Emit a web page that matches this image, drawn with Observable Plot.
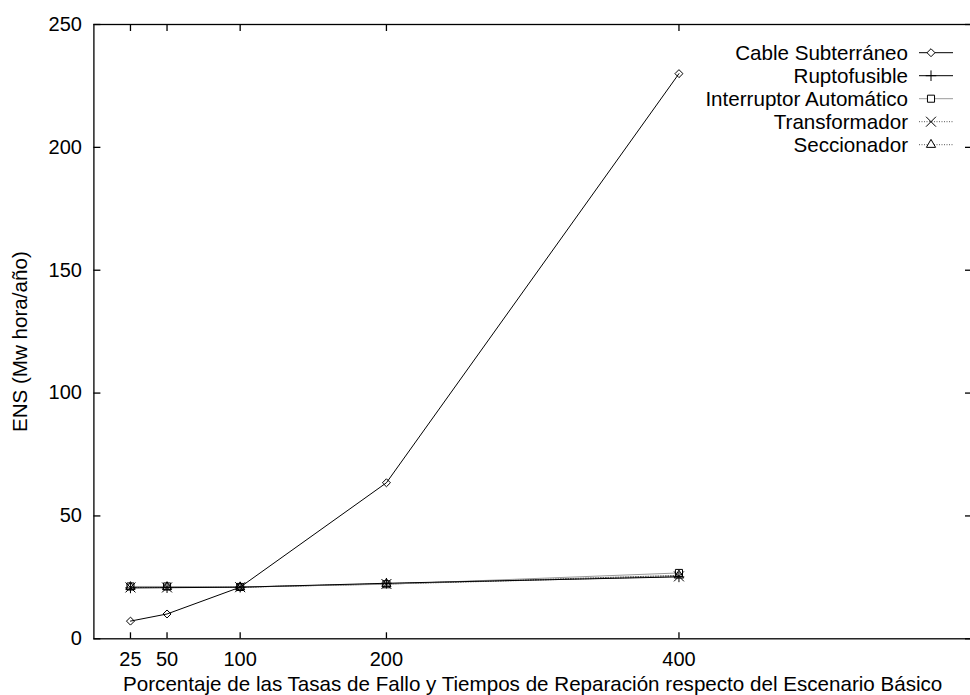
<!DOCTYPE html>
<html><head><meta charset="utf-8">
<script src="https://cdn.jsdelivr.net/npm/d3@7"></script>
<script src="https://cdn.jsdelivr.net/npm/@observablehq/plot@0.6"></script>
<style>body{margin:0;background:#fff} #chart{width:970px;height:695px}</style>
</head><body><div id="chart"></div>
<script>
// ---- data ----
const xValues = [25, 50, 100, 200, 400];
const xTicks = [25, 50, 100, 200, 400];
const yTicks = [0, 50, 100, 150, 200, 250];
const seriesNames = ["Cable Subterráneo", "Ruptofusible", "Interruptor Automático", "Transformador", "Seccionador"];
const cable = [7.2, 10.1, 21.0, 63.5, 230.0];
const ruptofusible = [20.7, 20.8, 21.0, 22.6, 25.2];
const interruptor = [21.3, 21.3, 21.1, 22.2, 26.8];
const transformador = [20.9, 20.9, 21.0, 22.3, 25.4];
const seccionador = [21.1, 21.1, 21.0, 22.4, 25.8];
const xLabel = "Porcentaje de las Tasas de Fallo y Tiempos de Reparación respecto del Escenario Básico";
const yLabel = "ENS (Mw hora/año)";

// ---- styles ----
const seriesValues = [cable, ruptofusible, interruptor, transformador, seccionador];
const styles = [
  {stroke: "#000", dash: null, width: 1, symbol: "diamond2", r: 3.6},
  {stroke: "#000", dash: null, width: 1, symbol: "plus", r: 3.5},
  {stroke: "#9a9a9a", dash: null, width: 1, symbol: "square2", r: 4.5},
  {stroke: "#555", dash: "1,1.5", width: 1, symbol: "times", r: 4.6},
  {stroke: "#555", dash: "1,1.5", width: 1, symbol: "triangle2", r: 4.4}
];
const font = "'Liberation Sans', Arial, Helvetica, sans-serif";
const fsTick = 20;
const fsText = 20.6;

const rows = [];
seriesNames.forEach((name, i) => seriesValues[i].forEach((v, j) => rows.push({series: name, x: xValues[j], y: v})));

const lineMarks = [], dotMarks = [];
seriesNames.forEach((name, i) => {
  const s = styles[i];
  const d = rows.filter(r => r.series === name);
  lineMarks.unshift(Plot.line(d, {x: "x", y: "y", stroke: s.stroke, strokeWidth: s.width, strokeDasharray: s.dash}));
  dotMarks.push(Plot.dot(d, {x: "x", y: "y", symbol: () => s.symbol, r: s.r, fill: "none", stroke: "#000", strokeWidth: 1}));
});

const noText = () => "";
const plot = Plot.plot({
  width: 970, height: 695,
  marginLeft: 93.4, marginRight: -1, marginTop: 24, marginBottom: 56.7,
  style: {fontFamily: font, fontSize: fsTick + "px", color: "#000", background: "#fff", overflow: "visible"},
  x: {domain: [0, 600]},
  y: {domain: [0, 250]},
  marks: [
    Plot.axisX(xTicks, {anchor: "bottom", tickSize: 0, tickPadding: 13, label: null, fontSize: fsTick}),
    Plot.axisX(xTicks, {anchor: "bottom", tickSize: -6, tickFormat: noText, label: null, strokeWidth: 1.3}),
    Plot.axisX(xTicks, {anchor: "top", tickSize: -6, tickFormat: noText, label: null, strokeWidth: 1.3}),
    Plot.axisY(yTicks, {anchor: "left", tickSize: 0, tickPadding: 12, label: null, fontSize: fsTick}),
    Plot.axisY(yTicks, {anchor: "left", tickSize: -7, tickFormat: noText, label: null, strokeWidth: 1.3}),
    Plot.axisY(yTicks, {anchor: "right", tickSize: -7, tickFormat: noText, label: null, strokeWidth: 1.3}),
    ...lineMarks,
    ...dotMarks,
    Plot.frame({stroke: "#000", strokeWidth: 1.3}),
    Plot.text([xLabel], {frameAnchor: "bottom", dy: 46, text: d => d, fontSize: fsText, fill: "#000", textAnchor: "middle", lineAnchor: "middle"}),
    Plot.text([yLabel], {frameAnchor: "left", dx: -73, dy: 10, rotate: -90, text: d => d, fontSize: fsText, fill: "#000", textAnchor: "middle", lineAnchor: "middle"})
  ]
});

// ---- legend (top right, inside frame) ----
const svg = d3.select(plot);
const lg = svg.append("g").attr("font-family", font).attr("font-size", fsText);
const symbolMap = {diamond2: d3.symbolDiamond2, plus: d3.symbolPlus, square2: d3.symbolSquare2, times: d3.symbolTimes, triangle2: d3.symbolTriangle2};
seriesNames.forEach((name, i) => {
  const s = styles[i];
  const y = 52.7 + i * 23;
  lg.append("text").attr("x", 908).attr("y", y).attr("dy", "0.35em").attr("text-anchor", "end").attr("fill", "#000").text(name);
  lg.append("line").attr("x1", 919).attr("x2", 953).attr("y1", y).attr("y2", y)
    .attr("stroke", s.stroke).attr("stroke-width", s.width).attr("stroke-dasharray", s.dash);
  lg.append("path").attr("transform", `translate(931,${y})`)
    .attr("d", d3.symbol(symbolMap[s.symbol], Math.PI * s.r * s.r)())
    .attr("fill", "#fff").attr("stroke", "#000").attr("stroke-width", 1);
});

document.getElementById("chart").appendChild(plot);
</script>
</body></html>
